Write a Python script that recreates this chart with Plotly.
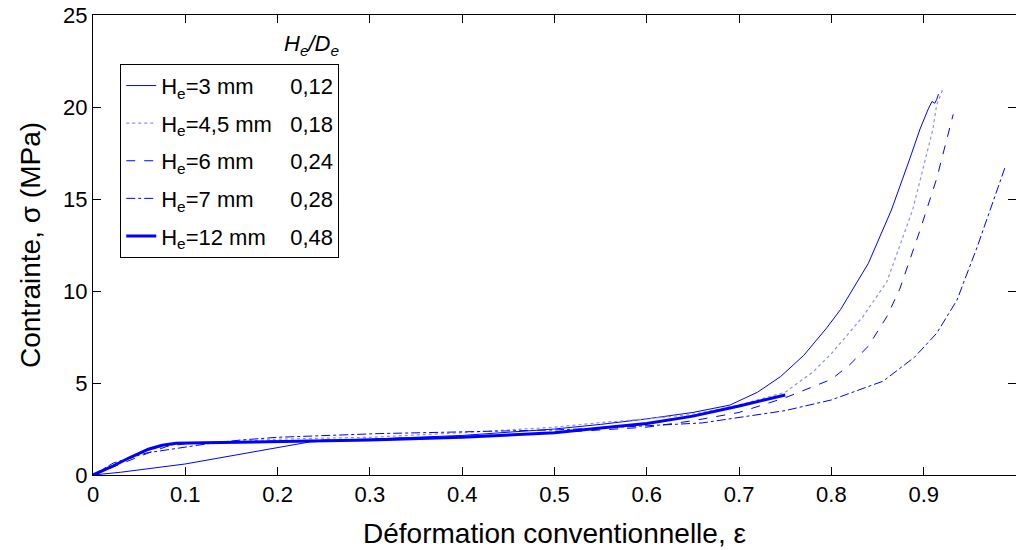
import plotly.graph_objects as go

# ---- data ----
eps_3 = [0, 0.03, 0.1, 0.15, 0.2, 0.235, 0.3, 0.4, 0.5, 0.55, 0.6, 0.65, 0.69, 0.72, 0.745,
         0.77, 0.795, 0.81, 0.84, 0.865, 0.885, 0.896, 0.905, 0.909, 0.912, 0.914, 0.916]
sig_3 = [0, 0.15, 0.6, 1.05, 1.5, 1.8, 1.95, 2.15, 2.5, 2.75, 3.05, 3.4, 3.8, 4.5, 5.35,
         6.5, 8.0, 9.0, 11.5, 14.4, 17.2, 18.8, 19.9, 20.3, 20.2, 20.4, 20.7]

eps_45 = [0, 0.02, 0.04, 0.06, 0.08, 0.1, 0.15, 0.2, 0.3, 0.4, 0.5, 0.55, 0.6, 0.65, 0.7,
          0.75, 0.78, 0.8, 0.834, 0.86, 0.888, 0.91, 0.914, 0.921]
sig_45 = [0, 0.45, 0.95, 1.35, 1.6, 1.72, 1.8, 1.95, 2.05, 2.3, 2.6, 2.85, 3.05, 3.3, 3.8,
          4.5, 5.6, 6.6, 8.6, 10.5, 14.4, 18.8, 20.1, 21.0]

eps_6 = [0, 0.03, 0.06, 0.08, 0.1, 0.15, 0.2, 0.3, 0.4, 0.5, 0.6, 0.65, 0.7, 0.75, 0.8,
         0.82, 0.84, 0.86, 0.874, 0.896, 0.914, 0.932]
sig_6 = [0, 0.6, 1.2, 1.55, 1.7, 1.8, 1.85, 1.95, 2.1, 2.3, 2.6, 2.95, 3.4, 4.2, 5.2,
         6.0, 7.0, 8.6, 10.1, 13.3, 16.1, 19.6]

eps_7 = [0, 0.022, 0.058, 0.094, 0.13, 0.16, 0.2, 0.31, 0.4, 0.5, 0.55, 0.66, 0.75, 0.8,
         0.856, 0.89, 0.914, 0.936, 0.958, 0.975, 0.988]
sig_7 = [0, 0.65, 1.2, 1.47, 1.74, 1.9, 2.05, 2.25, 2.35, 2.45, 2.55, 2.83, 3.5, 4.08,
         5.1, 6.4, 7.7, 9.5, 12.4, 14.8, 16.7]

eps_12 = [0, 0.02, 0.04, 0.06, 0.075, 0.09, 0.12, 0.2, 0.3, 0.4, 0.5, 0.55, 0.6, 0.65, 0.7, 0.75]
sig_12 = [0, 0.45, 0.95, 1.4, 1.62, 1.72, 1.75, 1.8, 1.9, 2.05, 2.3, 2.55, 2.8, 3.2, 3.75, 4.35]

labels = ["H<sub>e</sub>=3 mm", "H<sub>e</sub>=4,5 mm", "H<sub>e</sub>=6 mm",
          "H<sub>e</sub>=7 mm", "H<sub>e</sub>=12 mm"]
ratios = ["0,12", "0,18", "0,24", "0,28", "0,48"]
ratio_title = "<i>H<sub>e</sub>/D<sub>e</sub></i>"

x_ticks = [0, 0.1, 0.2, 0.3, 0.4, 0.5, 0.6, 0.7, 0.8, 0.9, 1]
x_ticktext = ["0", "0.1", "0.2", "0.3", "0.4", "0.5", "0.6", "0.7", "0.8", "0.9", "1"]
y_ticks = [0, 5, 10, 15, 20, 25]

series = [(eps_3, sig_3), (eps_45, sig_45), (eps_6, sig_6), (eps_7, sig_7), (eps_12, sig_12)]
styles = [dict(color="#0000ff", width=1, dash="solid"),
          dict(color="#8c8cff", width=1.2, dash="dot"),
          dict(color="#0000ff", width=1, dash="dash"),
          dict(color="#0000ff", width=1, dash="dashdot"),
          dict(color="#0000ff", width=3, dash="solid")]
# non-breaking spaces between label and ratio so the ratio column lines up
gaps = [6, 3, 6, 6, 4]

FONT = "Liberation Sans, Arial, sans-serif"
fig = go.Figure()
for i, ((x, y), st) in enumerate(zip(series, styles)):
    name = labels[i] + "\u00a0" * gaps[i] + ratios[i]
    fig.add_trace(go.Scatter(x=x, y=y, mode="lines", line=st, name=name,
                             legendgroup=f"g{i}"))

fig.add_annotation(x=0.237, y=0.935, xref="paper", yref="paper",
                   text=ratio_title, showarrow=False,
                   xanchor="center", yanchor="middle", font=dict(family=FONT, size=22, color="black"))

axis_common = dict(showline=True, linecolor="black", linewidth=1, mirror="ticks",
                   ticks="inside", ticklen=8, tickcolor="black", showgrid=False, zeroline=False,
                   tickfont=dict(family=FONT, size=22, color="black"))
fig.update_xaxes(range=[0, 1], tickvals=x_ticks, ticktext=x_ticktext,
                 title=dict(text="Déformation conventionnelle, ε", font=dict(family=FONT, size=28, color="black"),
                            standoff=16),
                 **axis_common)
fig.update_yaxes(range=[0, 25], tickvals=y_ticks,
                 title=dict(text="Contrainte, σ (MPa)", font=dict(family=FONT, size=28, color="black"),
                            standoff=14),
                 **axis_common)

fig.update_layout(
    width=1016, height=550,
    margin=dict(l=93, r=0, t=15, b=75, autoexpand=False),
    plot_bgcolor="white", paper_bgcolor="white",
    font=dict(family=FONT, size=22, color="black"),
    legend=dict(x=0.0295, y=0.894, xanchor="left", yanchor="top",
                bordercolor="black", borderwidth=1, bgcolor="white",
                font=dict(family=FONT, size=22, color="black"),
                tracegroupgap=6, itemwidth=30),
    showlegend=True,
)

fig.write_html("out.html", config={"displayModeBar": False},
               post_script="document.body.style.margin='0';document.body.style.overflow='hidden';")
